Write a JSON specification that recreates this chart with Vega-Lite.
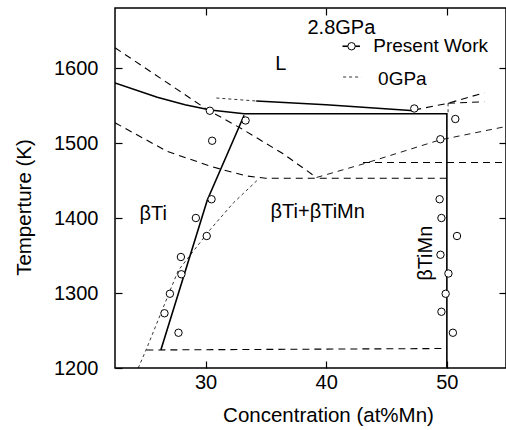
{
  "$schema": "https://vega.github.io/schema/vega-lite/v6.json",
  "width": 391,
  "height": 360,
  "autosize": {"type": "none"},
  "padding": {"left": 115, "top": 8, "right": 0, "bottom": 62},
  "background": "white",
  "config": {
    "view": {"stroke": "black", "strokeWidth": 1.5},
    "axis": {
      "domain": false, "grid": false, "tickColor": "black", "tickSize": -7, "tickWidth": 1.2,
      "labelFont": "Liberation Sans", "labelFontSize": 20, "labelColor": "black",
      "titleFont": "Liberation Sans", "titleFontSize": 20.5, "titleFontWeight": "normal", "titleColor": "black"
    }
  },
  "datasets": {
    "lines": [
      {"id": "s1", "style": "solid", "o": 1, "x": 22.5, "y": 1580},
      {"id": "s1", "style": "solid", "o": 2, "x": 26.0, "y": 1561},
      {"id": "s1", "style": "solid", "o": 3, "x": 28.3, "y": 1551},
      {"id": "s1", "style": "solid", "o": 4, "x": 30.4, "y": 1544},
      {"id": "s1", "style": "solid", "o": 5, "x": 33.2, "y": 1539},
      {"id": "s1", "style": "solid", "o": 6, "x": 50.0, "y": 1539},
      {"id": "s1", "style": "solid", "o": 7, "x": 50.0, "y": 1200},
      {"id": "s2", "style": "solid", "o": 1, "x": 34.2, "y": 1556},
      {"id": "s2", "style": "solid", "o": 2, "x": 40.0, "y": 1551},
      {"id": "s2", "style": "solid", "o": 3, "x": 47.3, "y": 1543},
      {"id": "s3", "style": "solid", "o": 1, "x": 26.3, "y": 1224},
      {"id": "s3", "style": "solid", "o": 2, "x": 30.15, "y": 1424},
      {"id": "s3", "style": "solid", "o": 3, "x": 33.2, "y": 1537},
      {"id": "sl", "style": "solid", "o": 1, "x": 41.35, "y": 1629},
      {"id": "sl", "style": "solid", "o": 2, "x": 42.8, "y": 1629},
      {"id": "d1", "style": "dash", "o": 1, "x": 22.5, "y": 1627},
      {"id": "d1", "style": "dash", "o": 2, "x": 30.1, "y": 1545},
      {"id": "d1", "style": "dash", "o": 3, "x": 33.1, "y": 1518},
      {"id": "d1", "style": "dash", "o": 4, "x": 36.4, "y": 1486},
      {"id": "d1", "style": "dash", "o": 5, "x": 39.2, "y": 1454},
      {"id": "d2", "style": "dash", "o": 1, "x": 22.5, "y": 1527},
      {"id": "d2", "style": "dash", "o": 2, "x": 26.8, "y": 1489},
      {"id": "d2", "style": "dash", "o": 3, "x": 30.6, "y": 1468},
      {"id": "d2", "style": "dash", "o": 4, "x": 33.4, "y": 1456},
      {"id": "d2", "style": "dash", "o": 5, "x": 35.0, "y": 1453},
      {"id": "d2", "style": "dash", "o": 6, "x": 50.0, "y": 1453},
      {"id": "d4", "style": "dash", "o": 1, "x": 43.05, "y": 1474},
      {"id": "d4", "style": "dash", "o": 2, "x": 54.9, "y": 1474},
      {"id": "d6", "style": "dash", "o": 1, "x": 25.1, "y": 1224},
      {"id": "d6", "style": "dash", "o": 2, "x": 50.0, "y": 1226},
      {"id": "d8", "style": "dash", "o": 1, "x": 47.3, "y": 1544},
      {"id": "d8", "style": "dash", "o": 2, "x": 50.1, "y": 1553},
      {"id": "d8", "style": "dash", "o": 3, "x": 53.1, "y": 1567},
      {"id": "d9", "style": "dash", "o": 1, "x": 50.1, "y": 1553},
      {"id": "d9", "style": "dash", "o": 2, "x": 53.1, "y": 1555},
      {"id": "d3", "style": "mid", "o": 1, "x": 39.2, "y": 1454},
      {"id": "d3", "style": "mid", "o": 2, "x": 43.05, "y": 1472},
      {"id": "d3", "style": "mid", "o": 3, "x": 49.4, "y": 1504},
      {"id": "d3", "style": "mid", "o": 4, "x": 54.9, "y": 1522},
      {"id": "d5", "style": "fine", "o": 1, "x": 24.43, "y": 1200},
      {"id": "d5", "style": "fine", "o": 2, "x": 25.07, "y": 1224},
      {"id": "d5", "style": "fine", "o": 3, "x": 27.74, "y": 1330},
      {"id": "d5", "style": "fine", "o": 4, "x": 30.36, "y": 1384},
      {"id": "d5", "style": "fine", "o": 5, "x": 32.3, "y": 1420},
      {"id": "d5", "style": "fine", "o": 6, "x": 34.4, "y": 1452},
      {"id": "d7", "style": "fine", "o": 1, "x": 30.9, "y": 1560},
      {"id": "d7", "style": "fine", "o": 2, "x": 34.2, "y": 1556},
      {"id": "d10", "style": "fine", "o": 1, "x": 50.1, "y": 1553},
      {"id": "d10", "style": "fine", "o": 2, "x": 50.1, "y": 1539},
      {"id": "dl", "style": "fine", "o": 1, "x": 41.4, "y": 1588},
      {"id": "dl", "style": "fine", "o": 2, "x": 42.9, "y": 1588}
    ],
    "points": [
      {"x": 30.36, "y": 1543}, {"x": 33.32, "y": 1530}, {"x": 30.55, "y": 1503},
      {"x": 30.5, "y": 1425}, {"x": 29.2, "y": 1400}, {"x": 30.1, "y": 1376},
      {"x": 27.96, "y": 1348}, {"x": 28.0, "y": 1325}, {"x": 27.05, "y": 1299},
      {"x": 26.6, "y": 1273}, {"x": 27.76, "y": 1247},
      {"x": 47.3, "y": 1546}, {"x": 50.7, "y": 1532}, {"x": 49.46, "y": 1505},
      {"x": 49.4, "y": 1425}, {"x": 49.55, "y": 1400}, {"x": 50.84, "y": 1376},
      {"x": 49.47, "y": 1351}, {"x": 50.13, "y": 1326}, {"x": 49.9, "y": 1299},
      {"x": 49.55, "y": 1275}, {"x": 50.5, "y": 1247},
      {"x": 42.1, "y": 1629}
    ],
    "labels": [
      {"t": "L", "kind": "center", "x": 36.24, "y": 1606},
      {"t": "2.8GPa", "kind": "center", "x": 41.26, "y": 1653},
      {"t": "βTi", "kind": "center", "x": 25.67, "y": 1405},
      {"t": "βTi+βTiMn", "kind": "center", "x": 39.3, "y": 1408},
      {"t": "Present Work", "kind": "left", "x": 43.9, "y": 1629},
      {"t": "0GPa", "kind": "left", "x": 44.3, "y": 1585},
      {"t": "βTiMn", "kind": "rot", "x": 48.3, "y": 1353}
    ]
  },
  "layer": [
    {
      "encoding": {
        "x": {"field": "x", "type": "quantitative", "scale": {"domain": [22.5, 54.9], "nice": false, "zero": false},
          "axis": {"values": [30, 40, 50], "format": "d", "title": "Concentration (at%Mn)", "titleX": 213, "titleY": 47, "titleBaseline": "middle", "labelPadding": 11}},
        "y": {"field": "y", "type": "quantitative", "scale": {"domain": [1200, 1680], "nice": false, "zero": false},
          "axis": {"values": [1200, 1300, 1400, 1500, 1600], "format": "d", "title": "Temperture (K)", "titleX": -91, "titleY": 199, "titleAngle": 270, "titleAlign": "center", "titleBaseline": "middle", "labelPadding": 24}}
      },
      "layer": [
        {"data": {"name": "lines"}, "transform": [{"filter": "datum.style === 'solid'"}],
          "mark": {"type": "line", "color": "black", "strokeWidth": 1.6, "clip": true},
          "encoding": {"detail": {"field": "id"}, "order": {"field": "o"}}},
        {"data": {"name": "lines"}, "transform": [{"filter": "datum.style === 'dash'"}],
          "mark": {"type": "line", "color": "black", "strokeWidth": 1.1, "strokeDash": [7, 5], "clip": true},
          "encoding": {"detail": {"field": "id"}, "order": {"field": "o"}}},
        {"data": {"name": "lines"}, "transform": [{"filter": "datum.style === 'mid'"}],
          "mark": {"type": "line", "color": "black", "strokeWidth": 0.9, "strokeDash": [6, 5], "clip": true},
          "encoding": {"detail": {"field": "id"}, "order": {"field": "o"}}},
        {"data": {"name": "lines"}, "transform": [{"filter": "datum.style === 'fine'"}],
          "mark": {"type": "line", "color": "black", "strokeWidth": 0.8, "strokeDash": [3, 3], "clip": true},
          "encoding": {"detail": {"field": "id"}, "order": {"field": "o"}}},
        {"data": {"name": "points"},
          "mark": {"type": "point", "shape": "circle", "filled": true, "fill": "white", "stroke": "black", "strokeWidth": 1, "size": 55, "opacity": 1}},
        {"data": {"name": "labels"}, "transform": [{"filter": "datum.kind === 'center'"}],
          "mark": {"type": "text", "align": "center", "baseline": "middle", "font": "Liberation Sans", "fontSize": 20, "color": "black"},
          "encoding": {"text": {"field": "t"}}},
        {"data": {"name": "labels"}, "transform": [{"filter": "datum.kind === 'left'"}],
          "mark": {"type": "text", "align": "left", "baseline": "middle", "font": "Liberation Sans", "fontSize": 19, "color": "black"},
          "encoding": {"text": {"field": "t"}}},
        {"data": {"name": "labels"}, "transform": [{"filter": "datum.kind === 'rot'"}],
          "mark": {"type": "text", "align": "center", "baseline": "middle", "angle": 270, "font": "Liberation Sans", "fontSize": 20, "color": "black"},
          "encoding": {"text": {"field": "t"}}}
      ]
    },
    {
      "data": {"name": "points"},
      "mark": {"type": "point", "opacity": 0},
      "encoding": {
        "x": {"field": "x", "type": "quantitative", "scale": {"domain": [22.5, 54.9], "nice": false, "zero": false},
          "axis": {"orient": "top", "values": [30, 40, 50], "labels": false, "title": null}},
        "y": {"field": "y", "type": "quantitative", "scale": {"domain": [1200, 1680], "nice": false, "zero": false},
          "axis": {"orient": "right", "values": [1300, 1400, 1500, 1600], "labels": false, "title": null}}
      }
    }
  ],
  "resolve": {"axis": {"x": "independent", "y": "independent"}}
}
